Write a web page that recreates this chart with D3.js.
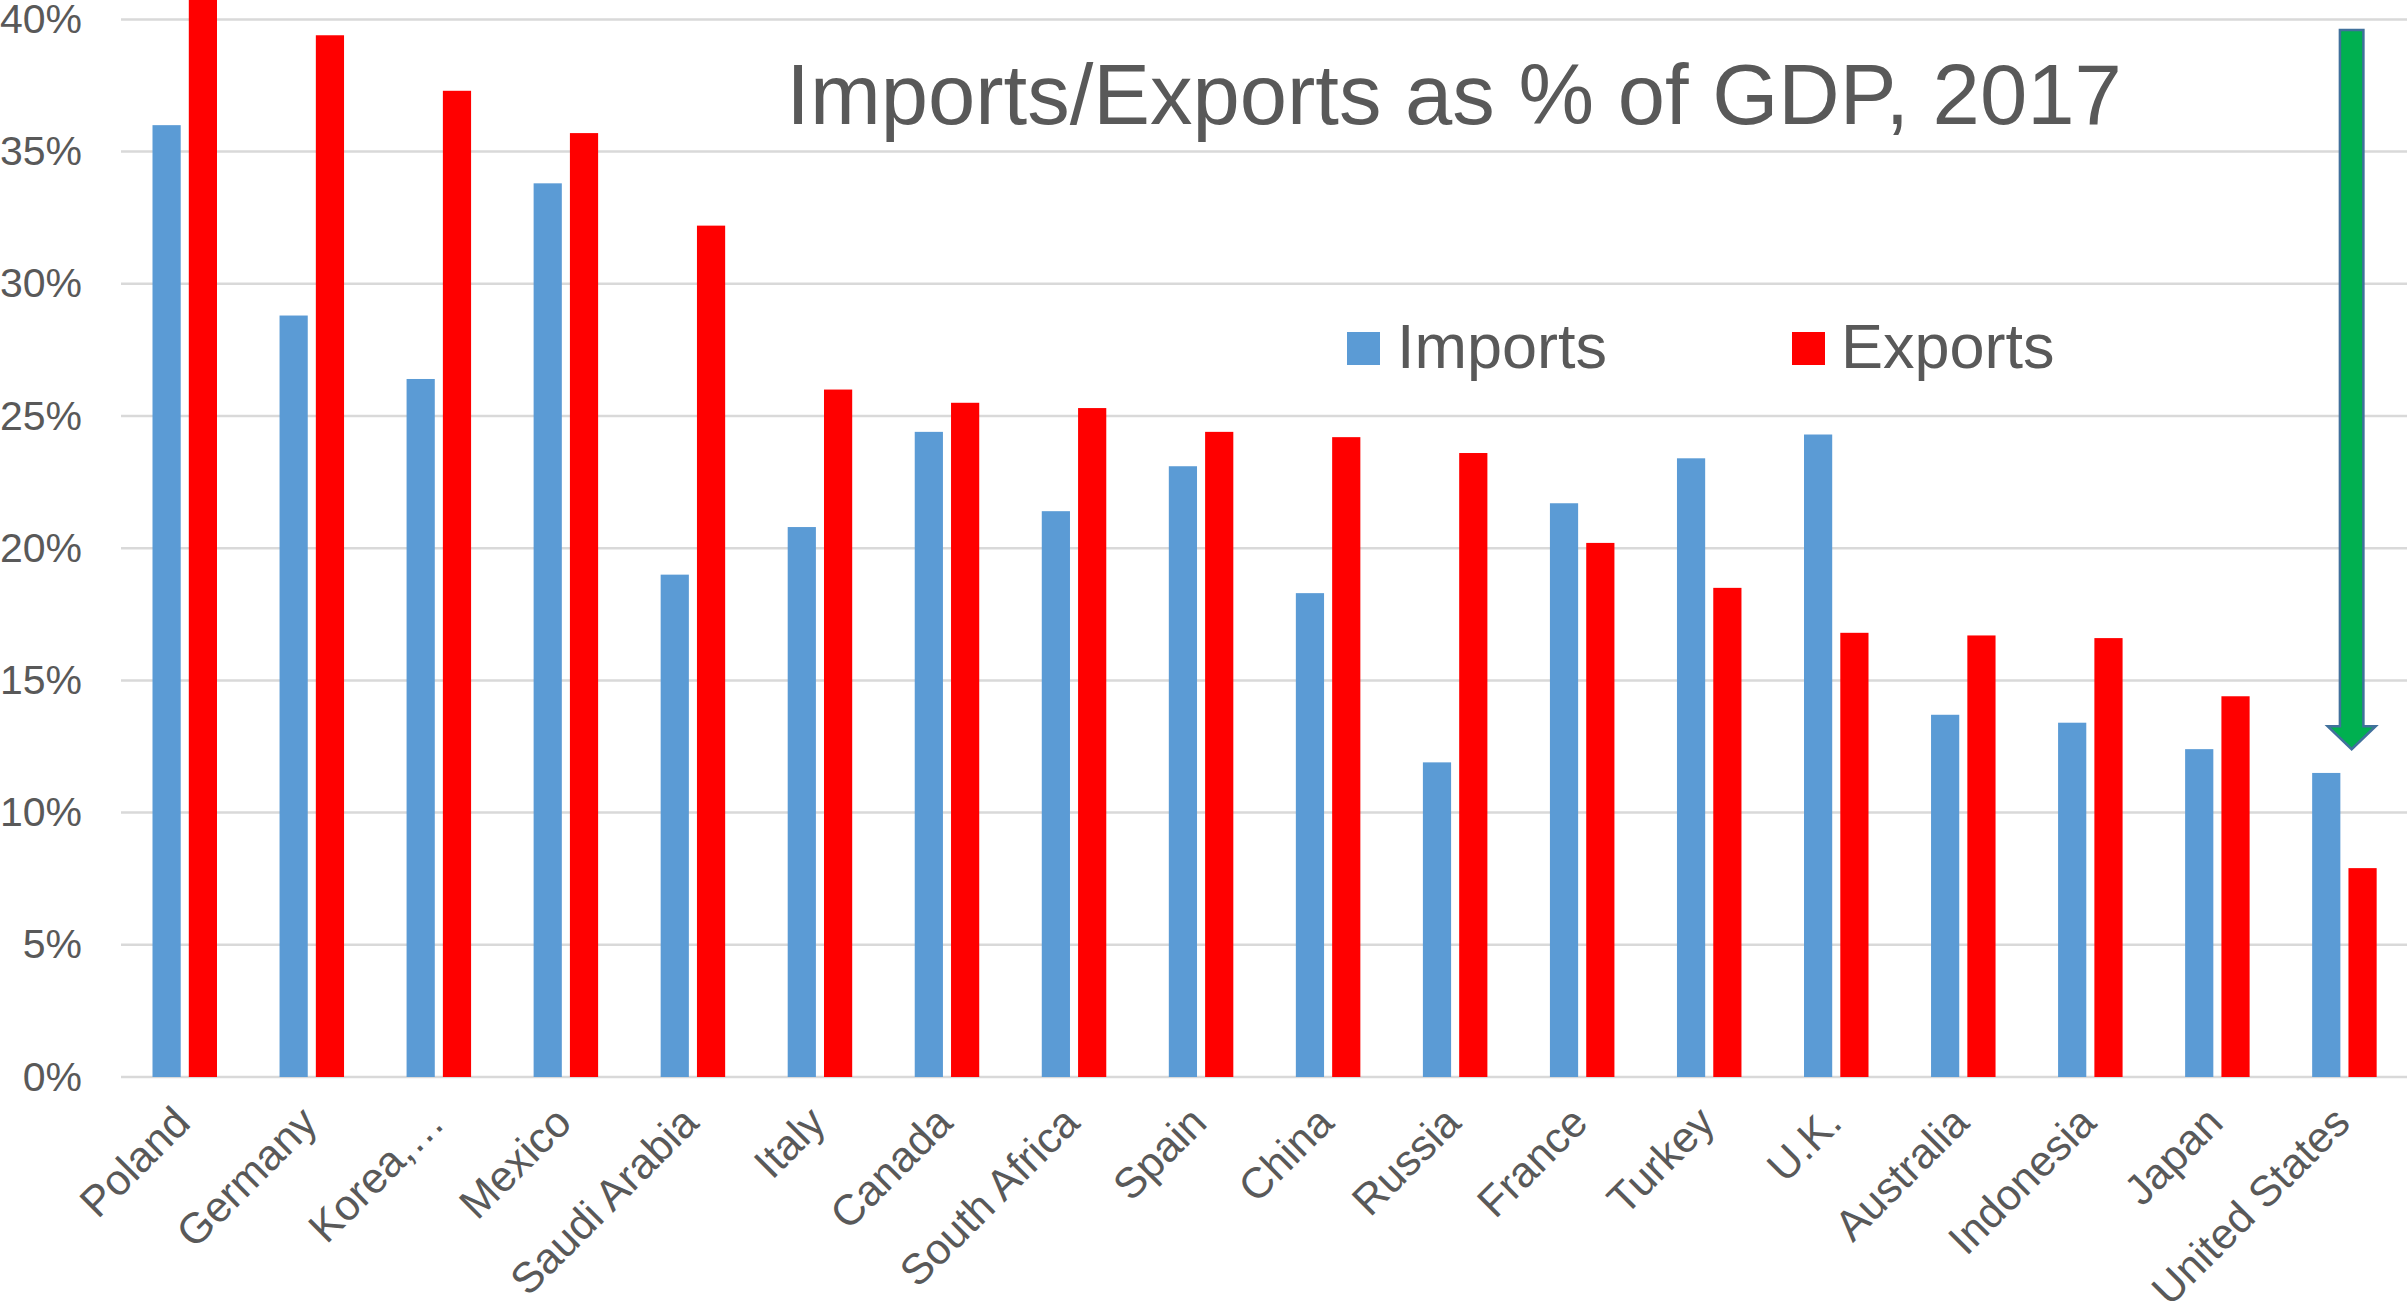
<!DOCTYPE html>
<html>
<head>
<meta charset="utf-8">
<script src="https://cdn.jsdelivr.net/npm/d3@7/dist/d3.min.js"></script>
<style>
  html, body { margin: 0; padding: 0; background: #fff; overflow: hidden; }
  svg { display: block; }
  text { font-family: "Liberation Sans", Arial, sans-serif; fill: #595959; }
</style>
</head>
<body>
<script>
// ---- data ----
const categories = ["Poland", "Germany", "Korea,\u2026", "Mexico", "Saudi Arabia", "Italy", "Canada",
  "South Africa", "Spain", "China", "Russia", "France", "Turkey", "U.K.", "Australia",
  "Indonesia", "Japan", "United States"];
const imports = [36.0, 28.8, 26.4, 33.8, 19.0, 20.8, 24.4, 21.4, 23.1, 18.3, 11.9, 21.7, 23.4, 24.3, 13.7, 13.4, 12.4, 11.5];
const exports = [41.5, 39.4, 37.3, 35.7, 32.2, 26.0, 25.5, 25.3, 24.4, 24.2, 23.6, 20.2, 18.5, 16.8, 16.7, 16.6, 14.4, 7.9];
const seriesNames = ["Imports", "Exports"];
const seriesColors = ["#5B9BD5", "#FF0000"];
const yTicks = [0, 5, 10, 15, 20, 25, 30, 35, 40];
const titleText = "Imports/Exports as % of GDP, 2017";
// annotation arrow (value range it spans, on the United States column)
const arrowFrom = 39.6, arrowTo = 12.4;

// ---- layout ----
const W = 2407, H = 1303;
const plot = { left: 121, right: 2407.7, top: 19.4, bottom: 1077 };

const svg = d3.select("body").append("svg").attr("width", W).attr("height", H);

const x0 = d3.scaleBand().domain(categories).range([plot.left, plot.right]).padding(0);
const x1 = d3.scaleBand().domain(seriesNames).range([31.5, 96]).paddingInner(0.223);
const y = d3.scaleLinear().domain([0, 40]).range([plot.bottom, plot.top]);

// gridlines
svg.append("g").selectAll("line").data(yTicks).join("line")
  .attr("x1", plot.left).attr("x2", W)
  .attr("y1", d => y(d)).attr("y2", d => y(d))
  .attr("stroke", "#D9D9D9").attr("stroke-width", 2.5);

// y axis labels
const yAxis = d3.axisLeft(y).tickValues(yTicks).tickFormat(d => d + "%").tickSize(0).tickPadding(0);
const ya = svg.append("g").attr("transform", "translate(82,0)").call(yAxis);
ya.select(".domain").remove();
ya.selectAll("text").attr("font-size", 41).attr("fill", "#595959")
  .style("font-family", '"Liberation Sans", Arial, sans-serif');

// bars
const rows = categories.map((c, i) => ({ c, vals: [imports[i], exports[i]] }));
const g = svg.append("g");
const grp = g.selectAll("g").data(rows).join("g")
  .attr("transform", d => `translate(${x0(d.c)},0)`);
grp.selectAll("rect").data(d => d.vals.map((v, k) => ({ k, v }))).join("rect")
  .attr("x", d => x1(seriesNames[d.k]))
  .attr("width", x1.bandwidth())
  .attr("y", d => y(d.v))
  .attr("height", d => y(0) - y(d.v))
  .attr("fill", d => seriesColors[d.k]);

// x labels
const xAxis = d3.axisBottom(x0).tickSize(0).tickPadding(0);
const xa = svg.append("g").call(xAxis);
xa.select(".domain").remove();
xa.selectAll(".tick").attr("transform", d => `translate(${x0(d) + x0.bandwidth() / 2 + 8},1125)`);
xa.selectAll("text")
  .attr("y", 0).attr("dy", 0)
  .attr("text-anchor", "end")
  .attr("transform", "rotate(-45)")
  .attr("font-size", 43).attr("fill", "#595959")
  .style("font-family", '"Liberation Sans", Arial, sans-serif');

// title
svg.append("text").attr("x", 1454).attr("y", 124).attr("text-anchor", "middle")
  .attr("font-size", 85).text(titleText);

// legend
const legendPos = [{ sx: 1347, tx: 1397 }, { sx: 1792, tx: 1841 }];
seriesNames.forEach((s, i) => {
  svg.append("rect").attr("x", legendPos[i].sx).attr("y", 332).attr("width", 33).attr("height", 33)
    .attr("fill", seriesColors[i]);
  svg.append("text").attr("x", legendPos[i].tx).attr("y", 368).attr("font-size", 63).text(s);
});

// arrow annotation
const ac = x0("United States") + 71;
const shaftHalf = 11.75, headHalf = 24;
const yTop = y(arrowFrom), yTip = y(arrowTo), yHead = yTip - 23;
const pts = [
  [ac - shaftHalf, yTop], [ac + shaftHalf, yTop], [ac + shaftHalf, yHead], [ac + headHalf, yHead],
  [ac, yTip], [ac - headHalf, yHead], [ac - shaftHalf, yHead]
];
svg.append("path").attr("d", d3.line()(pts) + "Z")
  .attr("fill", "#00B050").attr("stroke", "#41719C").attr("stroke-width", 2.5)
  .attr("stroke-linejoin", "miter");
</script>
</body>
</html>
